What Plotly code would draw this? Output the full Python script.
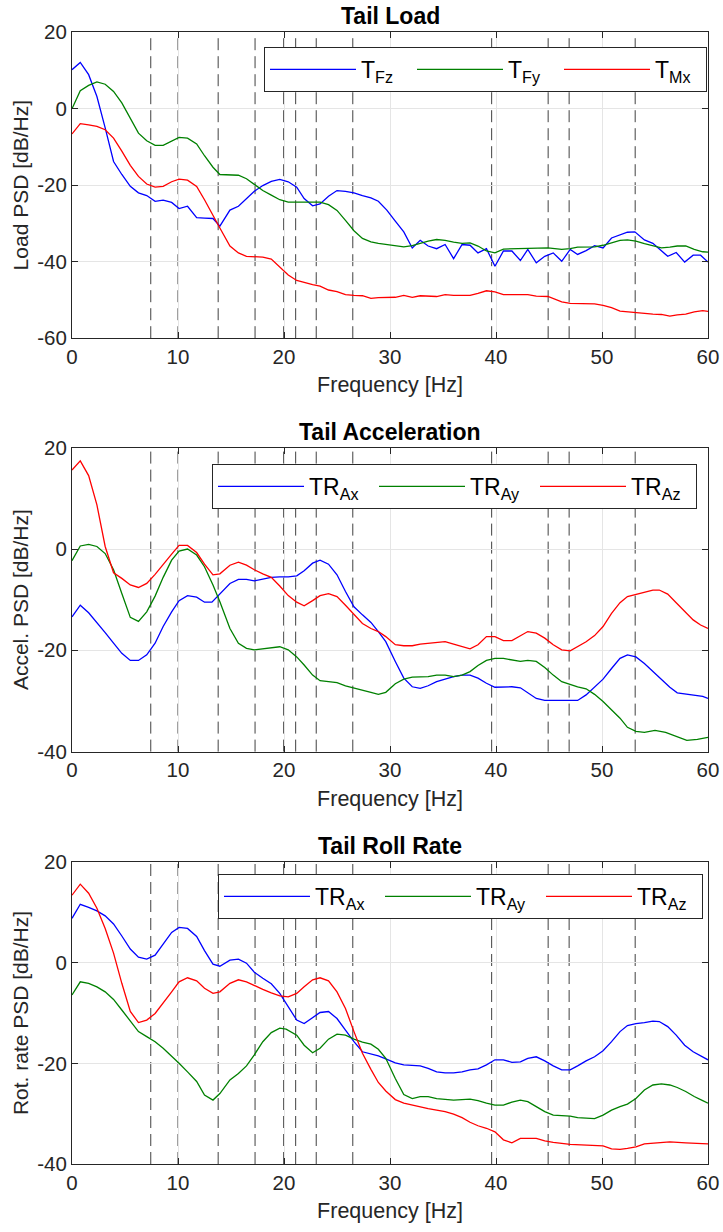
import plotly.graph_objects as go

# ---------------- data ----------------
# Tail Load
load_fz_f = [0, 0.78, 1.57, 2.35, 3.13, 3.92, 4.7, 5.5, 6.27, 7.05, 7.84, 8.6, 9.4, 10.1, 10.9, 11.76, 12.5, 13.3, 13.95, 14.9, 15.7, 16.46, 17.2, 18.0, 18.8, 19.6, 20.4, 21.2, 21.9, 22.7, 23.4, 24.2, 25.0, 25.8, 26.6, 27.4, 28.2, 28.9, 29.7, 30.5, 31.3, 32.1, 32.85, 33.6, 34.4, 35.2, 36.0, 36.8, 37.55, 38.3, 39.1, 39.9, 40.7, 41.5, 42.3, 43.0, 43.8, 44.6, 45.4, 46.2, 47.0, 47.7, 48.5, 49.3, 50.1, 50.9, 51.7, 52.4, 53.1, 54.0, 54.8, 55.4, 56.2, 57.0, 57.8, 58.6, 59.3, 60]
load_fz = [10.2, 12.1, 8.9, 3.2, -5.0, -13.8, -17.2, -20.3, -22.0, -22.7, -24.2, -23.9, -24.5, -26.1, -25.5, -28.5, -28.6, -28.7, -30.7, -26.5, -25.5, -23.5, -21.6, -20.1, -19.0, -18.5, -19.1, -20.5, -23.5, -25.4, -24.9, -22.9, -21.4, -21.6, -22.0, -22.7, -23.3, -24.2, -26.5, -29.4, -32.2, -36.4, -34.4, -35.9, -36.6, -35.5, -39.2, -35.5, -35.7, -37.7, -36.6, -41.2, -37.2, -37.2, -39.7, -36.8, -40.3, -38.6, -37.7, -39.9, -36.8, -38.1, -37.1, -35.8, -36.4, -33.8, -32.9, -32.3, -32.2, -34.3, -35.2, -36.6, -38.6, -37.6, -40.1, -38.3, -38.3, -40.1]

load_fy_f = [0, 0.78, 1.57, 2.35, 3.13, 3.92, 4.7, 5.5, 6.27, 7.05, 7.84, 8.6, 9.4, 10.1, 10.9, 11.76, 12.5, 13.3, 13.95, 14.9, 15.7, 16.46, 17.2, 18.0, 18.8, 19.6, 20.4, 21.2, 21.9, 22.7, 23.4, 24.2, 25.0, 25.8, 26.6, 27.4, 28.2, 28.9, 29.7, 30.5, 31.3, 32.1, 32.85, 33.6, 34.4, 35.2, 36.0, 36.8, 37.55, 38.3, 39.1, 39.9, 40.7, 42.3, 43.8, 44.9, 46.2, 47.0, 47.7, 49.3, 50.1, 50.9, 51.7, 52.4, 53.2, 54.0, 54.8, 55.6, 56.4, 57.1, 57.9, 58.7, 59.5, 60]
load_fy = [0, 4.7, 6.1, 7.0, 6.4, 4.5, 1.5, -2.4, -6.4, -8.4, -9.6, -9.6, -8.4, -7.5, -7.7, -9.2, -12.3, -15.3, -17.2, -17.4, -17.4, -18.3, -19.8, -21.4, -22.6, -23.8, -24.4, -24.5, -24.4, -24.4, -24.4, -25.1, -26.6, -29.2, -31.9, -33.9, -34.8, -35.2, -35.5, -35.9, -36.1, -35.8, -35.1, -34.6, -34.2, -34.4, -34.9, -35.2, -35.1, -35.9, -37.2, -37.7, -36.7, -36.6, -36.6, -36.4, -36.8, -36.6, -36.2, -36.1, -35.7, -35.1, -34.4, -34.3, -34.6, -35.3, -35.9, -36.4, -36.2, -35.9, -35.9, -36.8, -37.4, -37.5]

load_mx_f = [0, 0.78, 1.57, 2.35, 3.13, 3.92, 4.7, 5.5, 6.27, 7.05, 7.84, 8.6, 9.4, 10.1, 10.9, 11.76, 12.5, 13.3, 13.95, 14.9, 15.7, 16.46, 17.2, 18.0, 18.8, 19.6, 20.4, 21.2, 21.9, 22.7, 23.4, 24.2, 25.0, 25.8, 26.6, 27.4, 28.2, 28.9, 30.5, 31.3, 32.1, 32.85, 34.4, 35.2, 36.0, 37.55, 38.3, 39.1, 39.9, 40.7, 43.0, 43.8, 44.9, 46.2, 47.0, 49.3, 50.1, 50.9, 51.7, 52.4, 54.0, 54.8, 55.6, 56.4, 57.1, 57.9, 58.7, 59.5, 60]
load_mx = [-6.6, -3.9, -4.2, -4.6, -5.5, -7.7, -11.1, -14.8, -17.7, -19.7, -20.5, -20.3, -19.1, -18.4, -18.7, -20.3, -23.8, -27.7, -31.2, -35.9, -37.7, -38.6, -38.7, -38.8, -39.3, -41.3, -43.5, -44.9, -45.5, -46.0, -46.4, -47.4, -47.8, -48.6, -48.8, -48.9, -49.6, -49.4, -49.3, -48.8, -49.3, -48.9, -49.1, -48.6, -48.8, -48.8, -48.3, -47.6, -47.9, -48.6, -48.6, -49.0, -49.1, -50.5, -50.9, -51.0, -51.4, -52.0, -52.9, -53.1, -53.6, -53.7, -53.8, -54.2, -53.9, -53.7, -53.1, -52.8, -53.0]

# Tail Acceleration
acc_ax_f = [0, 0.78, 1.57, 2.35, 3.13, 3.92, 4.7, 5.5, 6.27, 7.05, 7.84, 8.6, 9.4, 10.1, 10.9, 11.76, 12.5, 13.2, 13.95, 14.9, 15.7, 16.46, 17.2, 18.0, 18.8, 19.6, 20.4, 21.2, 21.9, 22.7, 23.4, 24.2, 25.0, 25.8, 26.6, 27.4, 28.2, 28.9, 29.6, 30.5, 31.3, 32.1, 32.85, 33.6, 34.4, 35.2, 36.0, 36.8, 37.55, 38.3, 39.1, 39.9, 40.7, 41.5, 42.3, 43.0, 43.8, 44.6, 45.4, 46.2, 47.0, 47.7, 48.5, 49.3, 50.1, 50.9, 51.7, 52.4, 53.2, 54.0, 54.8, 55.6, 56.4, 57.1, 57.9, 58.7, 59.5, 60]
acc_ax = [-13.4, -11.1, -12.6, -14.5, -16.5, -18.6, -20.6, -22.0, -22.0, -20.9, -18.6, -15.3, -12.4, -10.2, -9.2, -9.5, -10.5, -10.5, -8.8, -6.8, -6.0, -6.0, -6.3, -6.0, -5.6, -5.5, -5.5, -5.3, -4.3, -2.8, -2.2, -3.0, -5.1, -8.4, -11.4, -13.0, -14.5, -16.3, -18.3, -22.2, -25.5, -27.2, -27.5, -27.0, -26.2, -25.7, -25.2, -24.9, -24.9, -25.5, -26.5, -27.3, -27.3, -27.2, -27.4, -28.3, -29.5, -29.9, -29.9, -29.9, -29.9, -29.9, -28.8, -27.3, -25.7, -23.6, -21.6, -20.9, -21.3, -22.6, -24.2, -25.9, -27.3, -28.4, -28.6, -28.8, -29.1, -29.5]

acc_ay_f = [0, 0.78, 1.57, 2.35, 3.13, 3.92, 4.7, 5.5, 6.27, 7.05, 7.84, 8.6, 9.4, 10.1, 10.9, 11.76, 12.5, 13.3, 13.95, 14.9, 15.7, 16.46, 17.2, 18.0, 18.8, 19.6, 20.4, 21.2, 21.9, 22.7, 23.4, 24.2, 25.0, 25.8, 26.6, 27.4, 28.2, 28.9, 29.6, 30.5, 31.3, 32.1, 32.85, 33.6, 34.4, 35.2, 36.0, 36.8, 37.55, 38.3, 39.1, 39.9, 40.7, 41.5, 42.3, 43.0, 43.8, 44.6, 45.4, 46.2, 47.0, 47.7, 48.5, 49.3, 50.1, 50.9, 51.7, 52.4, 53.2, 54.0, 55.0, 56.0, 57.0, 58.0, 59.0, 60]
acc_ay = [-2.3, 0.6, 0.9, 0.5, -0.9, -4.1, -8.8, -13.5, -14.3, -12.4, -9.3, -5.6, -2.2, -0.4, 0.0, -1.2, -3.5, -7.1, -10.4, -15.7, -18.6, -19.6, -19.9, -19.7, -19.4, -19.3, -19.9, -21.3, -22.9, -24.9, -26.0, -26.2, -26.4, -27.0, -27.4, -27.8, -28.3, -28.7, -28.3, -26.6, -25.7, -25.3, -25.3, -25.2, -24.9, -24.9, -25.2, -24.9, -24.2, -23.0, -22.0, -21.6, -21.6, -21.9, -22.2, -22.0, -22.2, -23.4, -24.9, -26.2, -26.8, -27.2, -27.6, -28.7, -30.1, -31.8, -33.4, -35.2, -36.0, -36.2, -35.8, -36.2, -37.0, -37.8, -37.6, -37.2]

acc_az_f = [0, 0.78, 1.57, 2.35, 3.13, 3.92, 4.7, 5.5, 6.27, 7.05, 7.84, 8.6, 9.4, 10.1, 10.9, 11.76, 12.5, 13.3, 13.95, 14.9, 15.7, 16.46, 17.2, 18.0, 18.8, 19.6, 20.4, 21.2, 21.9, 22.7, 23.4, 24.2, 25.0, 25.8, 26.6, 27.4, 28.2, 28.9, 29.6, 30.5, 31.3, 32.1, 32.85, 35.2, 36.0, 37.55, 38.3, 39.1, 39.9, 40.7, 41.5, 42.3, 43.0, 43.8, 44.6, 45.4, 46.2, 47.0, 47.7, 48.5, 49.3, 50.1, 50.9, 51.7, 52.4, 53.2, 54.0, 54.8, 55.4, 56.2, 57.0, 57.8, 58.6, 59.3, 60]
acc_az = [15.6, 17.4, 14.5, 8.7, 0.5, -4.7, -5.8, -7.1, -7.6, -6.8, -5.0, -3.0, -1.0, 0.7, 0.7, -0.7, -3.0, -5.1, -4.9, -3.2, -2.6, -3.2, -4.1, -4.9, -5.6, -7.3, -9.2, -10.5, -11.2, -10.2, -9.2, -8.8, -9.4, -11.1, -13.0, -14.7, -15.7, -16.3, -17.3, -18.9, -19.1, -19.1, -18.8, -18.3, -18.8, -19.7, -18.9, -17.3, -17.3, -18.1, -18.1, -17.1, -16.3, -16.6, -17.6, -18.9, -19.9, -20.1, -19.3, -18.3, -17.1, -15.3, -12.7, -10.6, -9.4, -9.0, -8.6, -8.1, -8.1, -8.9, -10.6, -12.4, -14.0, -15.0, -15.7]

# Tail Roll Rate
rr_ax_f = [0, 0.78, 1.57, 2.35, 3.13, 3.92, 4.7, 5.5, 6.27, 7.05, 7.84, 8.6, 9.4, 10.1, 10.9, 11.76, 12.5, 13.3, 13.95, 14.9, 15.7, 16.46, 17.2, 18.0, 18.8, 19.6, 20.4, 21.2, 21.9, 22.7, 23.4, 24.2, 25.0, 25.8, 26.6, 27.4, 28.2, 28.9, 29.6, 30.5, 31.3, 32.85, 33.6, 34.4, 35.2, 36.0, 36.8, 37.55, 38.3, 39.1, 39.9, 40.7, 41.5, 42.3, 43.0, 43.8, 44.6, 45.4, 46.2, 47.0, 47.7, 48.5, 49.3, 50.1, 50.9, 51.7, 52.4, 53.2, 54.0, 54.8, 55.4, 56.2, 57.0, 57.8, 58.6, 59.3, 60]
rr_ax = [8.8, 11.6, 11.0, 10.3, 9.3, 7.7, 5.3, 2.7, 1.1, 0.7, 1.5, 3.8, 6.0, 7.0, 6.8, 5.2, 2.4, -0.3, -0.7, 0.5, 0.7, -0.1, -1.9, -3.1, -4.2, -6.1, -8.7, -11.4, -12.1, -10.9, -9.9, -9.7, -11.1, -13.4, -15.7, -17.7, -18.2, -18.5, -19.1, -19.9, -20.3, -20.5, -21.0, -21.7, -21.9, -21.9, -21.7, -21.3, -21.1, -20.3, -19.3, -19.3, -19.8, -19.7, -19.0, -18.7, -19.5, -20.5, -21.3, -21.3, -20.5, -19.5, -18.7, -17.5, -15.7, -13.7, -12.5, -12.1, -11.9, -11.6, -11.7, -12.7, -14.4, -16.4, -17.7, -18.5, -19.3]

rr_ay_f = [0, 0.78, 1.57, 2.35, 3.13, 3.92, 4.7, 5.5, 6.27, 7.05, 7.84, 8.6, 9.4, 10.1, 10.9, 11.76, 12.5, 13.3, 13.95, 14.9, 15.7, 16.46, 17.2, 18.0, 18.8, 19.6, 20.2, 21.2, 21.9, 22.7, 23.4, 24.2, 25.0, 25.8, 26.6, 27.4, 28.2, 28.9, 29.6, 30.5, 31.3, 32.1, 32.85, 33.6, 34.4, 36.0, 37.55, 38.3, 39.1, 39.9, 40.7, 41.5, 42.3, 43.0, 43.8, 44.6, 45.4, 47.0, 47.7, 49.3, 50.1, 50.9, 51.7, 52.4, 53.2, 54.0, 54.8, 55.6, 56.4, 57.1, 57.9, 58.7, 59.5, 60]
rr_ay = [-6.4, -3.8, -4.1, -4.8, -5.8, -7.3, -9.4, -11.7, -13.7, -14.7, -15.7, -17.0, -18.5, -20.0, -21.7, -23.6, -26.3, -27.3, -26.0, -23.3, -22.0, -20.5, -18.3, -15.7, -13.9, -13.0, -13.2, -14.4, -16.4, -17.9, -17.0, -15.2, -14.2, -14.4, -15.2, -15.8, -16.2, -17.2, -19.0, -23.0, -26.2, -27.0, -26.6, -26.6, -27.0, -27.3, -27.1, -27.4, -27.9, -28.3, -28.3, -27.7, -27.3, -27.6, -28.6, -29.6, -30.3, -30.5, -30.8, -31.0, -30.3, -29.3, -28.6, -28.1, -27.0, -25.3, -24.3, -24.1, -24.3, -24.8, -25.6, -26.6, -27.4, -27.9]

rr_az_f = [0, 0.78, 1.57, 2.35, 3.13, 3.92, 4.7, 5.5, 6.27, 7.05, 7.84, 8.6, 9.4, 10.1, 10.9, 11.76, 12.5, 13.3, 13.95, 14.9, 15.7, 16.46, 17.2, 18.0, 18.8, 19.6, 20.4, 21.2, 21.9, 22.7, 23.4, 24.2, 25.0, 25.8, 26.6, 27.4, 28.2, 28.9, 29.6, 30.5, 31.3, 32.1, 32.85, 33.6, 34.4, 35.2, 36.0, 36.8, 37.55, 38.3, 39.1, 39.9, 40.7, 41.5, 42.3, 43.8, 44.6, 45.4, 47.0, 48.5, 50.1, 50.9, 51.7, 52.4, 53.2, 54.0, 56.4, 57.9, 60]
rr_az = [13.4, 15.6, 13.8, 10.8, 6.8, 1.9, -4.1, -9.7, -11.9, -11.4, -10.1, -8.1, -5.8, -3.8, -3.0, -3.6, -5.1, -6.1, -5.8, -4.1, -3.4, -3.8, -4.6, -5.3, -6.0, -6.6, -6.8, -6.1, -4.8, -3.4, -3.0, -3.6, -5.8, -9.1, -13.7, -18.0, -21.2, -23.8, -25.5, -27.2, -27.9, -28.3, -28.7, -29.0, -29.3, -29.6, -30.1, -30.8, -31.7, -32.4, -32.9, -33.6, -35.2, -35.8, -34.9, -34.9, -35.4, -35.7, -36.1, -36.3, -36.4, -37.0, -37.1, -36.9, -36.6, -36.0, -35.6, -35.8, -36.0]

# vertical reference frequencies (dashed lines)
marker_freqs = [7.43, 10.0, 13.79, 17.27, 19.97, 21.1, 23.04, 26.49, 39.59, 44.92, 46.9, 53.13]

panel_titles = ["Tail Load", "Tail Acceleration", "Tail Roll Rate"]
ylabels = ["Load PSD [dB/Hz]", "Accel. PSD [dB/Hz]", "Rot. rate PSD [dB/Hz]"]
xlabel = "Frequency [Hz]"
x_ticks = [0, 10, 20, 30, 40, 50, 60]
y_ticks_top = [-60, -40, -20, 0, 20]
y_ticks_low = [-40, -20, 0, 20]
legend_names = [
    ["T<sub>Fz</sub>", "T<sub>Fy</sub>", "T<sub>Mx</sub>"],
    ["TR<sub>Ax</sub>", "TR<sub>Ay</sub>", "TR<sub>Az</sub>"],
    ["TR<sub>Ax</sub>", "TR<sub>Ay</sub>", "TR<sub>Az</sub>"],
]

# ---------------- layout constants ----------------
W, H = 723, 1232
L, R = 72, 15
colors = ["#0000FF", "#008000", "#FF0000"]
FONT = "Liberation Sans, Arial, sans-serif"
TXT = "#262626"

def ydom(top_px, bot_px):
    return [1 - bot_px / H, 1 - top_px / H]

panels = [
    dict(dom=ydom(32.2, 338.2), yr=[-60, 20], yt=y_ticks_top,
         series=[(load_fz_f, load_fz), (load_fy_f, load_fy), (load_mx_f, load_mx)],
         leg=dict(x=(264 - L) / (W - L - R), y=1 - 47 / H, ew=46)),
    dict(dom=ydom(447.7, 751.6), yr=[-40, 20], yt=y_ticks_low,
         series=[(acc_ax_f, acc_ax), (acc_ay_f, acc_ay), (acc_az_f, acc_az)],
         leg=dict(x=(212 - L) / (W - L - R), y=1 - 464 / H, ew=60)),
    dict(dom=ydom(862.0, 1164.0), yr=[-40, 20], yt=y_ticks_low,
         series=[(rr_ax_f, rr_ax), (rr_ay_f, rr_ay), (rr_az_f, rr_az)],
         leg=dict(x=(218 - L) / (W - L - R), y=1 - 874 / H, ew=60)),
]

fig = go.Figure()
shapes = []
annotations = []
layout = dict(
    width=W, height=H,
    margin=dict(l=L, r=R, t=0, b=0, pad=0),
    paper_bgcolor="white", plot_bgcolor="white",
    font=dict(family=FONT, color=TXT, size=20),
    showlegend=True,
)

for i, p in enumerate(panels):
    n = "" if i == 0 else str(i + 1)
    legname = "legend" if i == 0 else f"legend{i + 1}"
    for j, (fx, fy) in enumerate(p["series"]):
        fig.add_trace(go.Scatter(
            x=fx, y=fy, mode="lines", name=legend_names[i][j],
            line=dict(color=colors[j], width=1.3),
            xaxis=f"x{n}", yaxis=f"y{n}", legend=legname,
        ))
    layout[f"xaxis{n}"] = dict(
        domain=[0, 1], anchor=f"y{n}", range=[0, 60],
        tickvals=x_ticks, ticktext=[f"{v:g}" for v in x_ticks],
        ticks="inside", ticklen=6, tickcolor=TXT, tickwidth=1,
        showline=True, linecolor=TXT, linewidth=1.2, mirror="allticks",
        showgrid=True, gridcolor="#E5E5E5", gridwidth=1, zeroline=False,
        tickfont=dict(size=20.5, color=TXT, family=FONT),
        title=dict(text=xlabel, font=dict(size=21.5, color=TXT, family=FONT), standoff=10),
        automargin=False,
    )
    layout[f"yaxis{n}"] = dict(
        domain=p["dom"], anchor=f"x{n}", range=p["yr"],
        tickvals=p["yt"], ticktext=[f"{v:g}" for v in p["yt"]],
        ticks="inside", ticklen=6, tickcolor=TXT, tickwidth=1,
        showline=True, linecolor=TXT, linewidth=1.2, mirror="allticks",
        showgrid=True, gridcolor="#E5E5E5", gridwidth=1, zeroline=False,
        tickfont=dict(size=20.5, color=TXT, family=FONT),
        title=dict(text=ylabels[i], font=dict(size=21, color=TXT, family=FONT), standoff=2),
        automargin=False,
    )
    layout[legname] = dict(
        x=p["leg"]["x"], y=p["leg"]["y"], xanchor="left", yanchor="top",
        orientation="h", bgcolor="white", bordercolor=TXT, borderwidth=1,
        font=dict(size=23, color="black", family=FONT),
        itemwidth=86, tracegroupgap=0, entrywidth=p["leg"]["ew"], entrywidthmode="pixels",
    )
    for f in marker_freqs:
        shapes.append(dict(
            type="line", xref=f"x{n}", yref=f"y{n} domain", x0=f, x1=f, y0=0, y1=1,
            line=dict(color="#404040", width=1, dash="12px,6px"), layer="below",
        ))
    annotations.append(dict(
        text=f"<b>{panel_titles[i]}</b>", xref="paper", yref="paper",
        x=0.5, y=p["dom"][1], xanchor="center", yanchor="bottom", yshift=1,
        showarrow=False, font=dict(size=23, color="black", family=FONT),
    ))

layout["shapes"] = shapes
layout["annotations"] = annotations
fig.update_layout(**layout)
fig.write_html(
    "out.html",
    config={"displayModeBar": False},
    post_script="document.body.style.margin='0';document.body.style.padding='0';"
                "document.documentElement.style.overflow='hidden';",
)
